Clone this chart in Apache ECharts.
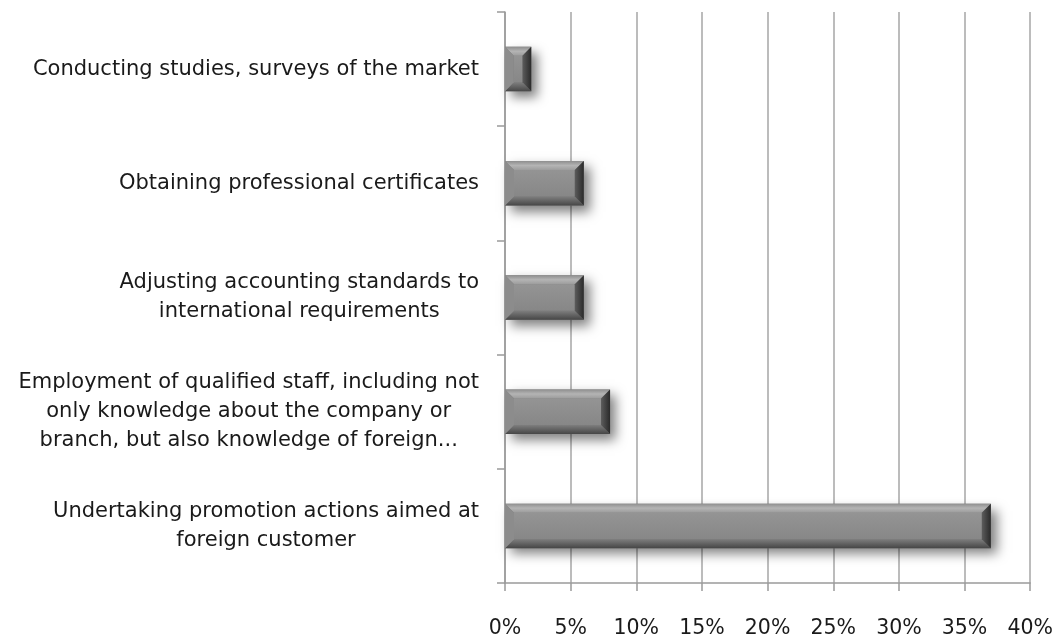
<!DOCTYPE html>
<html>
<head>
<meta charset="utf-8">
<script src="https://cdn.jsdelivr.net/npm/echarts@6/dist/echarts.min.js"></script>
<style>
  html, body { margin: 0; padding: 0; background: #fff; }
  #chart { width: 1056px; height: 640px; }
</style>
</head>
<body>
<div id="chart"></div>
<script>
// Activities, listed top to bottom
const categories = [
  'Conducting studies, surveys of the market',
  'Obtaining professional certificates',
  'Adjusting accounting standards to\ninternational requirements',
  'Employment of qualified staff, including not\nonly knowledge about the company or\nbranch, but also knowledge of foreign...',
  'Undertaking promotion actions aimed at\nforeign customer'
];
// Share of respondents (%)
const shares = [2, 6, 6, 8, 37];
// Value axis
const axisMin = 0;
const axisMax = 40;
const axisStep = 5;

const FONT = '"DejaVu Sans"';
const chart = echarts.init(document.getElementById('chart'));

// Bevelled bar: face, four sloped edges and a soft drop shadow
function renderBevelBar(params, api) {
  const cat = api.value(0);
  const val = api.value(1);
  const band = api.size([0, 1])[1];
  const h = band * 0.39;
  const p0 = api.coord([0, cat]);
  const p1 = api.coord([val, cat]);
  const x0 = p0[0], x1 = p1[0];
  const y0 = p0[1] - h / 2, y1 = p0[1] + h / 2;
  const w = x1 - x0;
  const bv = Math.min(9, w / 3);
  const bh = 9;
  return {
    type: 'group',
    children: [
      {
        type: 'rect',
        shape: { x: x0, y: y0, width: w, height: h },
        style: {
          fill: '#7a7a7a',
          shadowBlur: 11,
          shadowOffsetX: 6,
          shadowOffsetY: 6,
          shadowColor: 'rgba(0,0,0,0.5)'
        }
      },
      {
        type: 'rect',
        shape: { x: x0 + bv, y: y0 + bh, width: Math.max(0, w - 2 * bv), height: h - 2 * bh },
        style: {
          fill: new echarts.graphic.LinearGradient(0, 0, 0, 1, [
            { offset: 0, color: '#949494' },
            { offset: 1, color: '#878787' }
          ])
        }
      },
      { // top edge
        type: 'polygon',
        shape: { points: [[x0, y0], [x1, y0], [x1 - bv, y0 + bh], [x0 + bv, y0 + bh]] },
        style: {
          fill: new echarts.graphic.LinearGradient(0, 0, 0, 1, [
            { offset: 0, color: '#8e8e8e' },
            { offset: 0.5, color: '#b4b4b4' },
            { offset: 1, color: '#9c9c9c' }
          ])
        }
      },
      { // bottom edge
        type: 'polygon',
        shape: { points: [[x0 + bv, y1 - bh], [x1 - bv, y1 - bh], [x1, y1], [x0, y1]] },
        style: {
          fill: new echarts.graphic.LinearGradient(0, 0, 0, 1, [
            { offset: 0, color: '#7e7e7e' },
            { offset: 1, color: '#464646' }
          ])
        }
      },
      { // left edge
        type: 'polygon',
        shape: { points: [[x0, y0], [x0 + bv, y0 + bh], [x0 + bv, y1 - bh], [x0, y1]] },
        style: { fill: '#8c8c8c' }
      },
      { // right edge
        type: 'polygon',
        shape: { points: [[x1, y0], [x1, y1], [x1 - bv, y1 - bh], [x1 - bv, y0 + bh]] },
        style: {
          fill: new echarts.graphic.LinearGradient(0, 0, 1, 0, [
            { offset: 0, color: '#5c5c5c' },
            { offset: 1, color: '#2a2a2a' }
          ])
        }
      }
    ]
  };
}

chart.setOption({
  animation: false,
  backgroundColor: '#ffffff',
  grid: { left: 505, right: 25, top: 12, bottom: 57, containLabel: false },
  xAxis: {
    type: 'value',
    min: axisMin,
    max: axisMax,
    interval: axisStep,
    axisLine: { show: true, lineStyle: { color: '#9a9a9a', width: 1.5 } },
    axisTick: { show: true, length: 8, lineStyle: { color: '#9a9a9a', width: 1.5 } },
    splitLine: { show: true, lineStyle: { color: '#a6a6a6', width: 1.5 } },
    axisLabel: {
      formatter: v => v + '%',
      color: '#1a1a1a',
      fontFamily: FONT,
      fontSize: 20.5,
      margin: 35
    }
  },
  yAxis: {
    type: 'category',
    inverse: true,
    data: categories,
    axisLine: { show: true, lineStyle: { color: '#9a9a9a', width: 1.5 } },
    axisTick: { show: true, length: 8, alignWithLabel: false, lineStyle: { color: '#9a9a9a', width: 1.5 } },
    splitLine: { show: false },
    axisLabel: {
      margin: 26,
      align: 'right',
      formatter: v => v.split('\n').map(l => '{c|' + l + '}').join('\n'),
      rich: {
        c: {
          align: 'center',
          color: '#1a1a1a',
          fontFamily: FONT,
          fontSize: 21,
          lineHeight: 29
        }
      }
    }
  },
  series: [{
    type: 'custom',
    renderItem: renderBevelBar,
    encode: { x: 1, y: 0 },
    data: shares.map((v, i) => [i, v])
  }]
});
</script>
</body>
</html>
